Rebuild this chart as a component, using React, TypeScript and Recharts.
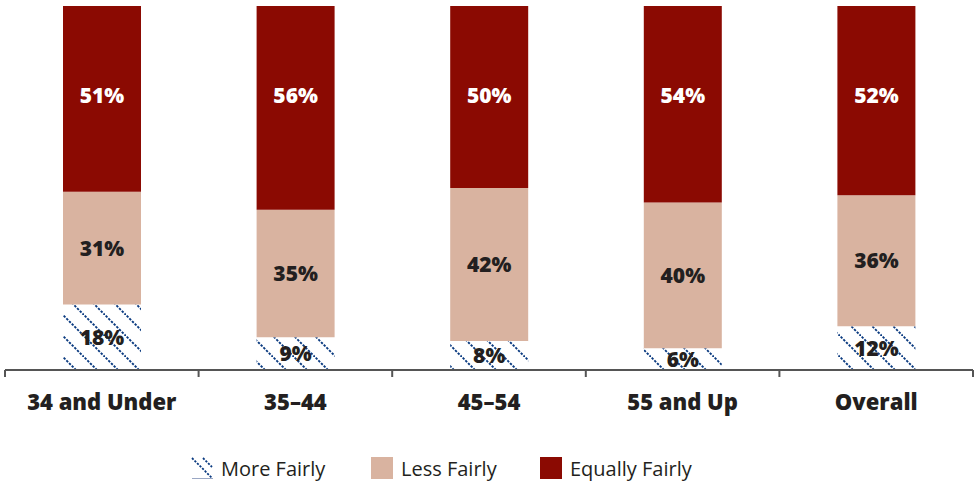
import React from "react";
import { BarChart, Bar, XAxis, YAxis, LabelList, Legend } from "recharts";

const categories = ["34 and Under", "35\u201344", "45\u201354", "55 and Up", "Overall"];
const moreFairly = [18, 9, 8, 6, 12];
const lessFairly = [31, 35, 42, 40, 36];
const equallyFairly = [51, 56, 50, 54, 52];
const seriesNames = ["More Fairly", "Less Fairly", "Equally Fairly"];

const data = categories.map((c, i) => ({
  name: c,
  pos: i + 0.5,
  more: moreFairly[i],
  less: lessFairly[i],
  equal: equallyFairly[i],
}));

const boundaryTicks = categories.map((_, i) => i).concat([categories.length]);
const centerTicks = categories.map((_, i) => i + 0.5);
const allTicks = [...boundaryTicks, ...centerTicks].sort((a, b) => a - b);

const FONT = "'Open Sans', 'Noto Sans', sans-serif";
const RED = "#8B0A02";
const TAN = "#D9B3A0";
const BLUE = "#0A3A80";

const AxisTick = (props: any) => {
  const { x, y, payload } = props;
  const v = payload.value;
  if (Number.isInteger(v)) {
    return <line x1={x} x2={x} y1={y} y2={y + 7} stroke="#555" strokeWidth={2} />;
  }
  const idx = Math.floor(v);
  return (
    <text
      x={x}
      y={y + 40}
      textAnchor="middle"
      fontFamily={FONT}
      fontWeight={800}
      fontSize={22}
      fill="#231f20"
    >
      {categories[idx]}
    </text>
  );
};

const LegendContent = () => {
  const items = [
    { name: seriesNames[0], fill: "url(#hatch)" },
    { name: seriesNames[1], fill: TAN },
    { name: seriesNames[2], fill: RED },
  ];
  const widths = [180, 169, 220];
  return (
    <div style={{ height: 30, display: "flex", alignItems: "center", justifyContent: "flex-start", paddingLeft: 186 }}>
      {items.map((it, i) => (
        <div key={it.name} style={{ display: "flex", alignItems: "center", width: widths[i] }}>
          <svg width={22} height={22} style={{ marginRight: 8 }}>
            {i === 0 ? (
              <g>
                <rect x={0} y={0} width={22} height={22} fill="#fff" />
                <line x1={1} y1={1} x2={21} y2={21} stroke={BLUE} strokeWidth={1.8} strokeDasharray="2.2 1.4" />
                <line x1={12} y1={1} x2={21} y2={10} stroke={BLUE} strokeWidth={1.8} strokeDasharray="2.2 1.4" />
                <line x1={1} y1={21.5} x2={22} y2={21.5} stroke="#9aa7c4" strokeWidth={1} />
              </g>
            ) : (
              <rect x={0} y={0} width={22} height={22} fill={it.fill} />
            )}
          </svg>
          <span style={{ fontFamily: FONT, fontSize: 20, color: "#231f20" }}>{it.name}</span>
        </div>
      ))}
    </div>
  );
};

export default function App() {
  return (
    <div style={{ position: "absolute", left: 0, top: 0, width: 974, height: 483, background: "#fff" }}>
      <BarChart
        width={974}
        height={483}
        data={data}
        margin={{ top: 6, right: 1, left: 5, bottom: 0 }}
      >
        <defs>
          <pattern id="hatch" patternUnits="userSpaceOnUse" width={21} height={21}>
            <rect x={0} y={0} width={21} height={21} fill="#fff" />
            <line x1={-2} y1={-2} x2={23} y2={23} stroke={BLUE} strokeWidth={1.9} strokeDasharray="2.4 1.4" />
          </pattern>
        </defs>
        <XAxis
          dataKey="pos"
          type="number"
          domain={[0, categories.length]}
          ticks={allTicks}
          interval={0}
          tick={<AxisTick />}
          tickLine={false}
          tickSize={0}
          tickMargin={0}
          axisLine={{ stroke: "#555", strokeWidth: 2 }}
          height={83}
          allowDecimals
        />
        <YAxis hide domain={[0, 100]} type="number" />
        <Legend verticalAlign="bottom" height={30} content={<LegendContent />} />
        <Bar dataKey="more" stackId="a" fill="url(#hatch)" barSize={78} isAnimationActive={false} name={seriesNames[0]}>
          <LabelList dataKey="more" position="center" formatter={(v: any) => `${v}%`} fill="#231f20" fontFamily={FONT} fontWeight={800} fontSize={21} />
        </Bar>
        <Bar dataKey="less" stackId="a" fill={TAN} barSize={78} isAnimationActive={false} name={seriesNames[1]}>
          <LabelList dataKey="less" position="center" formatter={(v: any) => `${v}%`} fill="#231f20" fontFamily={FONT} fontWeight={800} fontSize={21} />
        </Bar>
        <Bar dataKey="equal" stackId="a" fill={RED} barSize={78} isAnimationActive={false} name={seriesNames[2]}>
          <LabelList dataKey="equal" position="insideTop" offset={82} formatter={(v: any) => `${v}%`} fill="#ffffff" fontFamily={FONT} fontWeight={800} fontSize={21} />
        </Bar>
      </BarChart>
    </div>
  );
}
